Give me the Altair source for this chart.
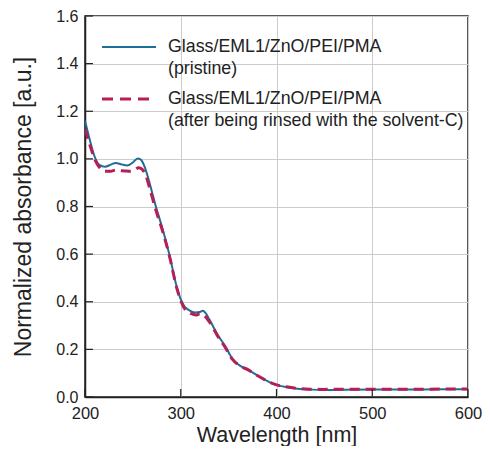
import altair as alt
import pandas as pd

# --- data ---
wl_pristine = [200, 205, 210, 215, 221, 227, 232, 238, 244, 250, 255, 258, 262, 266, 270, 274, 280, 288,
               296, 300, 304, 309, 315, 320, 323, 326, 330, 338, 347, 354, 361, 371, 380, 388, 395, 401,
               410, 420, 434, 448, 470, 500, 550, 600]
abs_pristine = [1.16, 1.08, 1.01, 0.975, 0.967, 0.976, 0.983, 0.977, 0.972, 0.985, 1.002, 0.998, 0.97, 0.92,
                0.86, 0.80, 0.72, 0.60, 0.46, 0.41, 0.38, 0.364, 0.355, 0.357, 0.362, 0.352, 0.325, 0.265,
                0.21, 0.16, 0.134, 0.113, 0.09, 0.072, 0.058, 0.05, 0.042, 0.036, 0.032, 0.029, 0.030,
                0.031, 0.032, 0.033]

wl_rinsed = [200, 205, 210, 215, 221, 227, 232, 238, 246, 252, 256, 260, 264, 268, 274, 280, 288, 296, 300,
             305, 310, 316, 320, 325, 330, 338, 347, 354, 361, 371, 380, 388, 395, 401, 410, 420, 434, 448,
             470, 500, 550, 600]
abs_rinsed = [1.125, 1.06, 1.0, 0.965, 0.948, 0.948, 0.953, 0.95, 0.948, 0.955, 0.963, 0.955, 0.925, 0.87,
              0.785, 0.71, 0.595, 0.455, 0.405, 0.365, 0.352, 0.344, 0.35, 0.34, 0.315, 0.26, 0.205, 0.158,
              0.133, 0.113, 0.09, 0.072, 0.058, 0.05, 0.043, 0.037, 0.033, 0.032, 0.033, 0.033, 0.033, 0.034]

series_names = ["pristine", "rinsed"]
legend_line1 = ["Glass/EML1/ZnO/PEI/PMA", "Glass/EML1/ZnO/PEI/PMA"]
legend_line2 = ["(pristine)", "(after being rinsed with the solvent-C)"]
x_ticks = [200, 300, 400, 500, 600]
y_ticks = [0.0, 0.2, 0.4, 0.6, 0.8, 1.0, 1.2, 1.4, 1.6]

BLUE = "#1f6e96"
RED = "#b51f55"
FONT = "Liberation Sans"
TXT = "#222222"

W, H = 383, 381

df_p = pd.DataFrame({"wl": wl_pristine, "a": abs_pristine})
df_r = pd.DataFrame({"wl": wl_rinsed, "a": abs_rinsed})

xs = alt.Scale(domain=[200, 600], nice=False, zero=False)
ys = alt.Scale(domain=[0, 1.6], nice=False)

xaxis = alt.Axis(values=x_ticks, format="d", ticks=False, labelPadding=8, labelFontSize=16.5,
                 labelFont=FONT, labelColor=TXT, title="Wavelength [nm]", titleFont=FONT,
                 titleFontSize=21.5, titleFontWeight="normal", titleColor=TXT,
                 titleBaseline="alphabetic", titleY=44.5,
                 gridColor="#cccccc", gridWidth=1, domainColor="#222222", domainWidth=1.5,
                 labelFlush=False)
yaxis = alt.Axis(values=y_ticks, format=".1f", ticks=False, labelPadding=7, labelFontSize=16,
                 labelFont=FONT, labelColor=TXT, title="Normalized absorbance [a.u.]", titleFont=FONT,
                 titleFontSize=23, titleFontWeight="normal", titleColor=TXT, titlePadding=20,
                 gridColor="#cccccc", gridWidth=1, domainColor="#222222", domainWidth=1.5,
                 labelFlush=False)

line_p = alt.Chart(df_p).mark_line(color=BLUE, strokeWidth=2, interpolate="monotone", clip=True).encode(
    x=alt.X("wl:Q", scale=xs, axis=xaxis),
    y=alt.Y("a:Q", scale=ys, axis=yaxis),
)
line_r = alt.Chart(df_r).mark_line(color=RED, strokeWidth=3, strokeDash=[10, 6],
                                   interpolate="monotone", clip=True).encode(
    x=alt.X("wl:Q", scale=xs),
    y=alt.Y("a:Q", scale=ys),
)

# inward ticks
yt = alt.Chart(pd.DataFrame({"v": y_ticks})).mark_rule(color="#222222", strokeWidth=1.2).encode(
    y=alt.Y("v:Q", scale=ys), x=alt.value(0), x2=alt.value(8))
xt = alt.Chart(pd.DataFrame({"v": x_ticks})).mark_rule(color="#222222", strokeWidth=1.2).encode(
    x=alt.X("v:Q", scale=xs), y=alt.value(H), y2=alt.value(H - 8))

# legend
leg_df = pd.DataFrame({"s": series_names, "l1": legend_line1, "l2": legend_line2,
                       "ly": [31, 83], "ly2": [53, 105]})
leg_blue = alt.Chart(leg_df[leg_df.s == "pristine"]).mark_rule(color=BLUE, strokeWidth=2).encode(
    x=alt.value(17), x2=alt.value(71), y=alt.value(31))
leg_red = alt.Chart(leg_df[leg_df.s == "rinsed"]).mark_rule(color=RED, strokeWidth=3,
                                                             strokeDash=[11, 7]).encode(
    x=alt.value(17), x2=alt.value(71), y=alt.value(83))
leg_t1 = alt.Chart(leg_df).mark_text(align="left", baseline="middle", font=FONT, fontSize=17.8,
                                     color=TXT).encode(
    x=alt.value(83), y=alt.Y("ly:Q", scale=None), text="l1:N")
leg_t2 = alt.Chart(leg_df).mark_text(align="left", baseline="middle", font=FONT, fontSize=17.8,
                                     color=TXT).encode(
    x=alt.value(83), y=alt.Y("ly2:Q", scale=None), text="l2:N")

chart = alt.layer(line_p, line_r, yt, xt, leg_blue, leg_red, leg_t1, leg_t2).properties(
    width=W, height=H,
    autosize=alt.AutoSizeParams(type="none"),
    padding={"left": 77, "top": 8, "right": 14, "bottom": 49},
    background="white",
).configure_view(stroke="#222222", strokeWidth=1.5)

chart.save("out.html", embed_options={"renderer": "svg", "actions": False})
